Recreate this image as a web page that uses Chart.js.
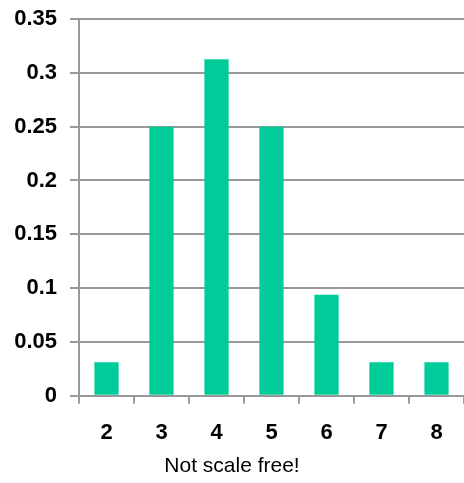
<!DOCTYPE html>
<html>
<head>
<meta charset="utf-8">
<script src="https://cdn.jsdelivr.net/npm/chart.js@4/dist/chart.umd.min.js"></script>
<style>
  html, body { margin: 0; padding: 0; background: #fff; }
  #wrap { width: 464px; height: 483px; }
</style>
</head>
<body>
<div id="wrap"><canvas id="chart"></canvas></div>
<script>
const degrees = ['2', '3', '4', '5', '6', '7', '8'];
const probability = [0.03125, 0.25, 0.3125, 0.25, 0.09375, 0.03125, 0.03125];
const yTicks = [0, 0.05, 0.1, 0.15, 0.2, 0.25, 0.3, 0.35];

const ctx = document.getElementById("chart");
const gridGray = '#999999';
const font = 'Liberation Sans, Arial, sans-serif';

let data = {
    labels: degrees,
    datasets: [
        {
            data: probability,
            backgroundColor: '#00CC99',
            barPercentage: 0.44,
            categoryPercentage: 1.0,
        },
    ],
};

let options = {
    responsive: true,
    maintainAspectRatio: false,
    animation: false,
    layout: {
        padding: {top: 19, right: 0, left: 0, bottom: 0}
    },
    scales: {
        x: {
            grid: {
                display: true,
                drawOnChartArea: false,
                offset: true,
                color: gridGray,
                lineWidth: 2,
                tickLength: 8,
            },
            border: {color: gridGray, width: 2},
            ticks: {
                color: '#000',
                font: {family: font, size: 22, weight: 'bold'},
                padding: 16,
            },
            afterFit: (scale) => { scale.height = 58; },
        },
        y: {
            min: 0,
            max: 0.35,
            afterBuildTicks: (scale) => {
                scale.ticks = yTicks.map(v => ({value: v}));
            },
            grid: {
                color: gridGray,
                lineWidth: 2,
                tickLength: 9,
            },
            border: {color: gridGray, width: 2},
            ticks: {
                color: '#000',
                font: {family: font, size: 22, weight: 'bold'},
                padding: 13,
                callback: (v) => String(+v.toFixed(2)),
            },
            afterFit: (scale) => {
                scale.width = 79;
                scale.paddingTop = 0;
                scale.paddingBottom = 0;
            },
        }
    },
    plugins: {
        legend: {display: false},
        tooltip: {enabled: false},
        title: {
            display: true,
            position: 'bottom',
            text: 'Not scale free!',
            color: '#000',
            font: {family: font, size: 21, weight: 'normal'},
            padding: {top: 0, bottom: 4},
        }
    }
};

let chart = new Chart(ctx, {
    type: "bar",
    data: data,
    options: options
});
</script>
</body>
</html>
